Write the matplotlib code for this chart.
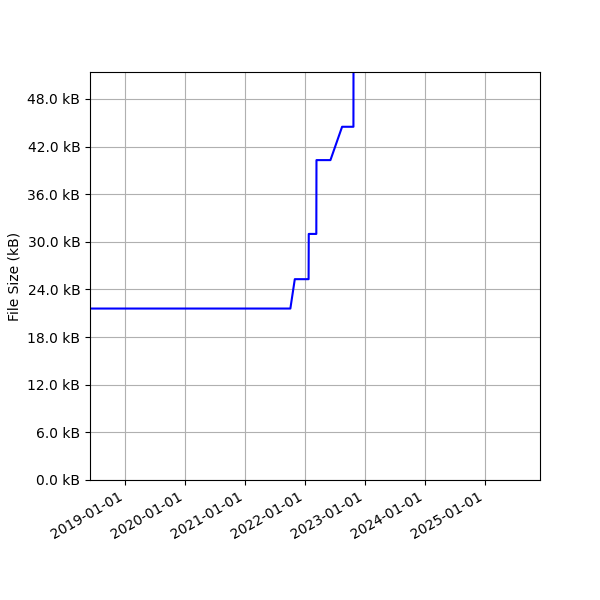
import numpy as np
import matplotlib
matplotlib.use('Agg')
import matplotlib.pyplot as plt
import matplotlib.dates as mdates
from matplotlib.ticker import FuncFormatter

# commit dates and file sizes (kB)
dates = ['2018-06-03', '2021-10-05', '2021-11-01', '2022-01-24', '2022-01-25',
         '2022-03-12', '2022-03-13', '2022-06-06', '2022-08-16', '2022-10-24',
         '2022-10-25', '2025-12-03']
sizes = [21.6, 21.6, 25.3, 25.3, 31.0, 31.0, 40.3, 40.3, 44.5, 44.5, 62.0, 62.0]

x = np.array(dates, dtype='datetime64[D]')
y = np.array(sizes)

fig, ax = plt.subplots(figsize=(6, 6), dpi=100)
ax.plot(x, y, color='b')
ax.set_xlim(np.datetime64('2018-06-03'), np.datetime64('2025-12-03'))
ax.set_ylim(0, 51.4)
ax.set_yticks(np.arange(0, 49, 6))
ax.yaxis.set_major_formatter(FuncFormatter(lambda v, p: '%.1f kB' % v))
ax.xaxis.set_major_locator(mdates.YearLocator())
ax.xaxis.set_major_formatter(mdates.DateFormatter('%Y-%m-%d'))
ax.set_ylabel('File Size (kB)')
ax.grid()
fig.autofmt_xdate()
fig.subplots_adjust(left=0.15, right=0.9, bottom=0.2, top=0.88)
fig.savefig('out.png')
